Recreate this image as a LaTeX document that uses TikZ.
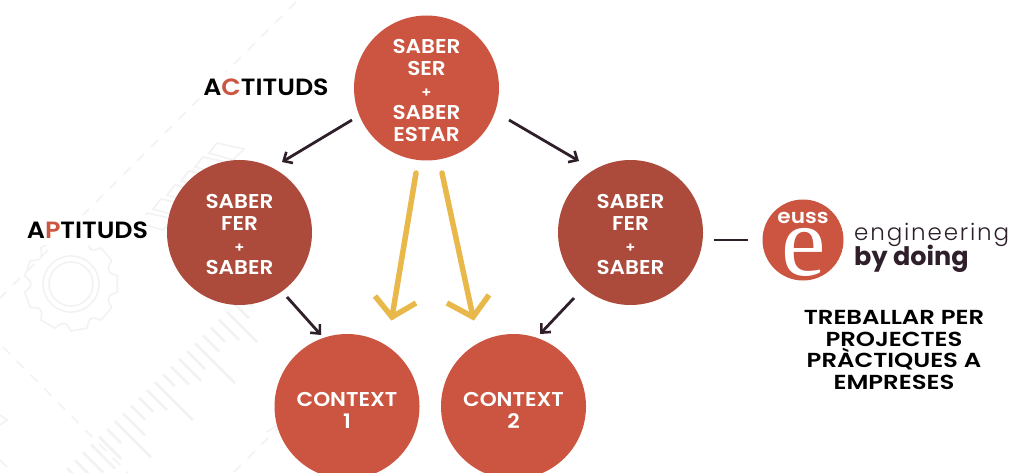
\documentclass[tikz,border=0pt]{standalone}
\usepackage{fontspec}
\setmainfont{Poppins}[BoldFont={Poppins SemiBold},FakeStretch=1.08]
\newfontfamily\serifE{Liberation Serif}
\newfontfamily\lightE{Poppins Light}[LetterSpace=8]
\newfontfamily\heavyE{Poppins Bold}
\newfontfamily\wideE{Poppins SemiBold}[FakeStretch=1.2]
\usetikzlibrary{arrows.meta}
\definecolor{terra}{HTML}{CC5541}
\definecolor{brick}{HTML}{AC4A3B}
\definecolor{dark}{HTML}{2E1F2B}
\definecolor{gold}{HTML}{E8B84B}
\definecolor{faint}{HTML}{F2F2F3}
\newcommand{\plussign}{{\fontsize{14}{14}\selectfont +}}
\tikzset{
 x=1pt,y=-1pt,
 disc/.style={circle,fill=#1,minimum size=145pt,inner sep=0pt},
 disctext/.style={inner sep=0pt,text=white,align=center,font=\fontsize{20}{22}\selectfont\bfseries},
 conn/.style={draw=dark,line width=2.8pt,-{Straight Barb[length=7pt,width=13pt,line width=2.6pt]}},
 goldline/.style={draw=gold,line width=5.5pt},
 label/.style={font=\fontsize{23.5}{26}\selectfont\bfseries,text=black,inner sep=0pt,fill=white,minimum height=30pt},
 bgline/.style={draw=faint,line width=1.6pt},
 bgdash/.style={bgline,dash pattern=on 10pt off 9.5pt},
 hatch/.style={draw=faint,line width=2.6pt},
}
\begin{document}
\begin{tikzpicture}
\useasboundingbox (0,0) rectangle (1011,473);
% background
\draw[bgdash] (296,2) -- (0,298);
\draw[bgdash] (3,347) -- (128,473);
\draw[bgdash] (296,410) -- (233,473);
\draw[bgline] (0,415) -- (7,420) -- (0,425);
\draw[bgline] (0,460) -- (7,467);
\draw[bgline] (267,432) -- (279,424) -- (283,436);
\foreach \i/\l in {-2/10,-1/14,0/30,1/20,2/14,3/16,4/40,5/18,6/22,7/18,8/12,9/38,10/20,11/14,12/14,13/22,14/36,15/14,16/22,17/24,18/20,19/14,20/12}{
  \pgfmathsetmacro{\xa}{227-\i*8}
  \pgfmathsetmacro{\ya}{312+\i*7.8}
  \draw[hatch] (\xa,\ya) -- ++(\l,\l);
}
\foreach \i in {0,...,5}{
  \pgfmathsetmacro{\xa}{217-\i*14}
  \pgfmathsetmacro{\ya}{143+\i*14}
  \draw[bgline] (\xa,\ya) -- ++(27,6) -- ++(-11,11) -- ++(-24,-7) -- cycle;
}
\draw[bgline] (71,284) circle (28pt);
\draw[bgline] (71,284) circle (22pt);
\draw[bgline,line join=round] ({71+47*cos(10)},{284+47*sin(10)})
  \foreach \a in {40,80,...,360}{
   -- ({71+47*cos(\a-30)},{284+47*sin(\a-30)})
   .. controls ({71+38*cos(\a-22)},{284+38*sin(\a-22)}) and ({71+38*cos(\a-18)},{284+38*sin(\a-18)}) .. ({71+47*cos(\a-10)},{284+47*sin(\a-10)})
   -- ({71+47*cos(\a+10)},{284+47*sin(\a+10)})
  };
% nodes
\node[disc=terra] (top) at (426.5,88) {};
\node[disc=brick] (left) at (239.5,232.5) {};
\node[disc=brick] (right) at (630.5,232.5) {};
\node[disc=terra] (c1) at (347,406.5) {};
\node[disc=terra] (c2) at (513.5,406.5) {};
\node[disctext] (topt) at ([yshift=-2pt]top.center) {SABER\\SER\\\plussign\\SABER\\ESTAR};
\node[disctext] (leftt) at ([yshift=-2pt]left.center) {SABER\\FER\\\plussign\\SABER};
\node[disctext] (rightt) at ([yshift=-2pt]right.center) {SABER\\FER\\\plussign\\SABER};
\node[disctext] (c1t) at ([yshift=-4pt]c1.center) {CONTEXT\\1};
\node[disctext] (c2t) at ([yshift=-4pt]c2.center) {CONTEXT\\2};
\node[label] (act) at (266,87) {A\textcolor{terra}{C}TITUDS};
\node[label] (apt) at (87.5,230) {A\textcolor{terra}{P}TITUDS};
% connectors
\coordinate (ts1) at (352,120); \coordinate (te1) at (282,162);
\coordinate (ts2) at (509,120); \coordinate (te2) at (579,161);
\coordinate (ls) at (287,297); \coordinate (le) at (321,335);
\coordinate (rs) at (574,298); \coordinate (re) at (540,334);
\draw[conn] (ts1) -- (te1);
\draw[conn] (ts2) -- (te2);
\draw[conn] (ls) -- (le);
\draw[conn] (rs) -- (re);
\coordinate (g1s) at (416,173); \coordinate (g1e) at (392,317);
\coordinate (g2s) at (442,173); \coordinate (g2e) at (473,317);
\coordinate (g1a) at (375,296); \coordinate (g1b) at (416,303);
\coordinate (g2a) at (447,303); \coordinate (g2b) at (489,295);
\draw[goldline,line cap=round] (g1s) -- (g1e);
\draw[goldline,line cap=round] (g2s) -- (g2e);
\draw[goldline,miter limit=10] (g1a) -- (g1e) -- (g1b);
\draw[goldline,miter limit=10] (g2a) -- (g2e) -- (g2b);
% logo
\node[circle,fill=terra,minimum size=81pt,inner sep=0pt] (logo) at (803,240) {};
\node[inner sep=0pt,text=white,font=\fontsize{20}{20}\selectfont\bfseries] (euss) at (803,218) {euss};
\node[inner sep=0pt,text=white,font=\serifE\fontsize{100}{100}\selectfont] (ebig) at (803.5,252) {e};
\coordinate (dashend) at (748,240);
\coordinate (dashstart) at (714,240);
\draw[dark,line width=2.8pt] (dashstart) -- (dashend);
\node[anchor=base west,inner sep=0pt,text=dark,font=\lightE\fontsize{23}{23}\selectfont] (eng) at (854,240) {engineering};
\node[anchor=base west,inner sep=0pt,text=dark,font=\heavyE\fontsize{25.5}{25.5}\selectfont] (doing) at (854,265) {by doing};
\node[inner sep=0pt,align=center,text=black,font=\wideE\fontsize{20.3}{21.7}\selectfont] (proj) at (894,350) {TREBALLAR PER\\PROJECTES\\PRÀCTIQUES A\\EMPRESES};
\end{tikzpicture}
\end{document}
